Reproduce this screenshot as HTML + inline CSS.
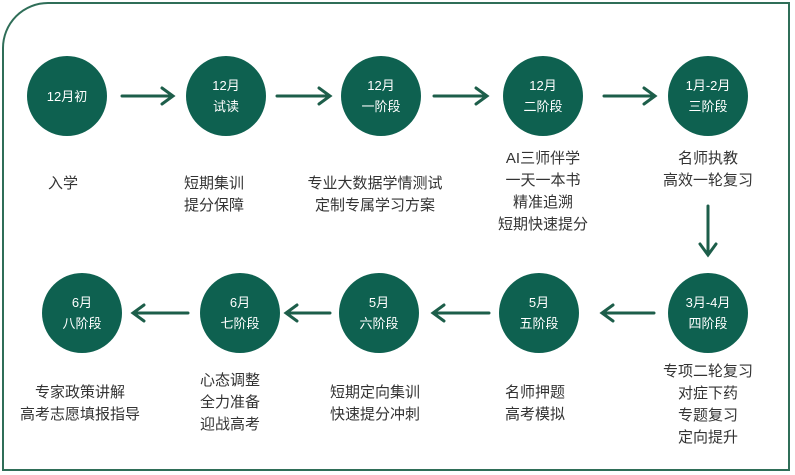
<!DOCTYPE html><html><head><meta charset="utf-8"><style>
body{margin:0;width:795px;height:475px;background:#fff;position:relative;overflow:hidden;font-family:"Liberation Sans","Noto Sans CJK SC",sans-serif}
.frame{position:absolute;left:2px;top:2px;width:788px;height:469px;border:2px solid #2f6e58;border-top-left-radius:46px;box-sizing:border-box;border-right-width:2px}
.c{position:absolute;width:80px;height:80px;border-radius:50%;background:#0e6150;color:#fff;font-size:13px;line-height:21px;display:flex;align-items:center;justify-content:center;text-align:center}
.t{position:absolute;width:200px;text-align:center;color:#333;font-size:15px;line-height:22px}
svg{position:absolute;left:0;top:0}
</style></head><body>
<div class="frame"></div>
<div class="c" style="left:27px;top:56px">12月初</div>
<div class="c" style="left:186px;top:56px">12月<br>试读</div>
<div class="c" style="left:341px;top:56px">12月<br>一阶段</div>
<div class="c" style="left:503px;top:56px">12月<br>二阶段</div>
<div class="c" style="left:668px;top:56px">1月-2月<br>三阶段</div>
<div class="c" style="left:42px;top:273px">6月<br>八阶段</div>
<div class="c" style="left:200px;top:273px">6月<br>七阶段</div>
<div class="c" style="left:339px;top:273px">5月<br>六阶段</div>
<div class="c" style="left:499px;top:273px">5月<br>五阶段</div>
<div class="c" style="left:668px;top:273px">3月-4月<br>四阶段</div>
<div class="t" style="left:-37px;top:173px">入学</div>
<div class="t" style="left:114px;top:173px">短期集训<br>提分保障</div>
<div class="t" style="left:275px;top:173px">专业大数据学情测试<br>定制专属学习方案</div>
<div class="t" style="left:443px;top:148px">AI三师伴学<br>一天一本书<br>精准追溯<br>短期快速提分</div>
<div class="t" style="left:608px;top:148px">名师执教<br>高效一轮复习</div>
<div class="t" style="left:-20px;top:382px">专家政策讲解<br>高考志愿填报指导</div>
<div class="t" style="left:130px;top:370px">心态调整<br>全力准备<br>迎战高考</div>
<div class="t" style="left:275px;top:382px">短期定向集训<br>快速提分冲刺</div>
<div class="t" style="left:435px;top:382px">名师押题<br>高考模拟</div>
<div class="t" style="left:608px;top:361px">专项二轮复习<br>对症下药<br>专题复习<br>定向提升</div>
<svg width="795" height="475" fill="none" stroke="#1d5e4a" stroke-width="3">
<g stroke-linecap="round">
<path d="M122 96H172M162 88L173 96L162 104"/>
<path d="M277 96H329M319 88L330 96L319 104"/>
<path d="M434 96H486M476 88L487 96L476 104"/>
<path d="M604 96H654M644 88L655 96L644 104"/>
<path d="M708 206V254M700 244L708 255L716 244"/>
<path d="M188 313H134M144 305L133 313L144 321"/>
<path d="M330 313H287M297 305L286 313L297 321"/>
<path d="M489 313H434M444 305L433 313L444 321"/>
<path d="M654 313H603M613 305L602 313L613 321"/>
</g></svg>
</body></html>
